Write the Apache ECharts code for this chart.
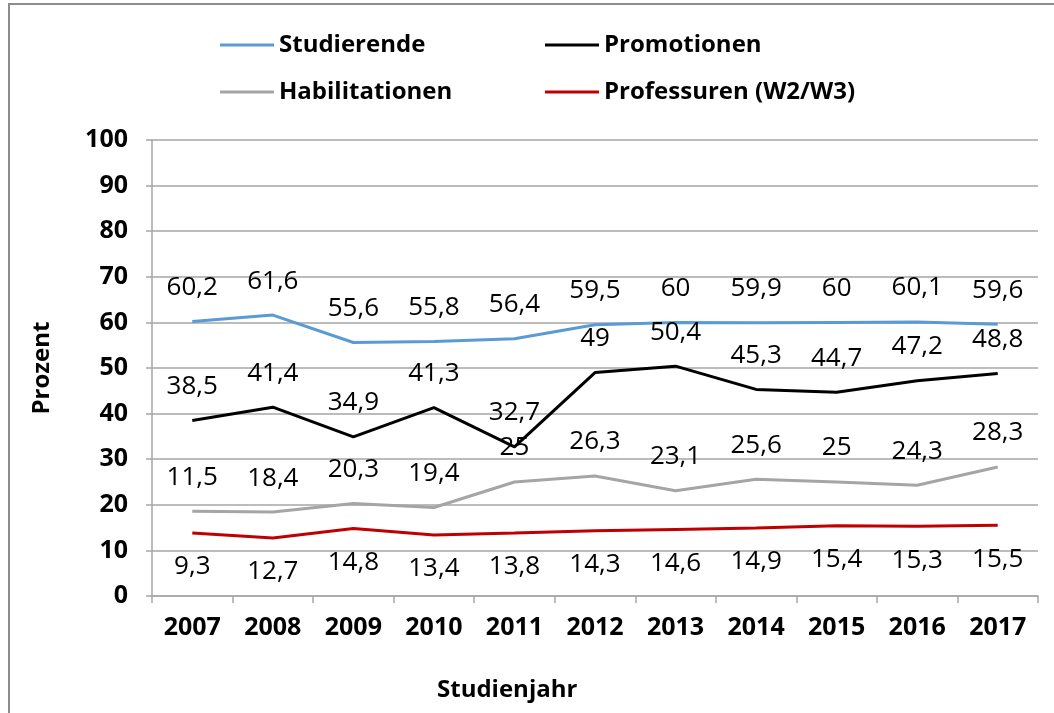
<!DOCTYPE html>
<html>
<head>
<meta charset="utf-8">
<script src="https://cdn.jsdelivr.net/npm/echarts@6/dist/echarts.min.js"></script>
<style>
    html, body { margin: 0; padding: 0; overflow: hidden; background: #fff; }
    #chart { width: 1054px; height: 713px; }
    .rahmen {
        position: absolute; left: 8px; top: 3px;
        width: 2000px; height: 2000px;
        border: 2px solid #8c8c8c;
        pointer-events: none;
    }
</style>
</head>
<body>
<div id="chart"></div>
<div class="rahmen"></div>
<script>
// Jahre
var jahre = ['2007', '2008', '2009', '2010', '2011', '2012', '2013', '2014', '2015', '2016', '2017'];
var yTicks = [0, 10, 20, 30, 40, 50, 60, 70, 80, 90, 100];

// Werte (Prozent)
var studierende = [60.2, 61.6, 55.6, 55.8, 56.4, 59.5, 60, 59.9, 60, 60.1, 59.6];
var promotionen = [38.5, 41.4, 34.9, 41.3, 32.7, 49, 50.4, 45.3, 44.7, 47.2, 48.8];
var habilitationen = [18.6, 18.4, 20.3, 19.4, 25, 26.3, 23.1, 25.6, 25, 24.3, 28.3];
var professuren = [13.8, 12.7, 14.8, 13.4, 13.8, 14.3, 14.6, 14.9, 15.4, 15.3, 15.5];

// Beschriftungen wie im Original (2007 weicht von der Linie ab)
var habilLabels = ['11,5', '18,4', '20,3', '19,4', '25', '26,3', '23,1', '25,6', '25', '24,3', '28,3'];
var profLabels = ['9,3', '12,7', '14,8', '13,4', '13,8', '14,3', '14,6', '14,9', '15,4', '15,3', '15,5'];

var FONT = '"Open Sans", "DejaVu Sans", sans-serif';
var GRAU = '#a6a6a6';

function komma(v) {
    return String(v).replace('.', ',');
}

function serie(name, data, farbe, labels, unten) {
    return {
        name: name,
        type: 'line',
        data: data,
        symbol: 'circle',
        symbolSize: 0,
        showSymbol: true,
        lineStyle: { color: farbe, width: 3 },
        itemStyle: { color: farbe },
        label: {
            show: true,
            position: unten ? 'bottom' : 'top',
            distance: 21,
            color: '#000',
            fontFamily: FONT,
            fontSize: 26,
            lineHeight: 26,
            formatter: function (p) {
                return labels ? labels[p.dataIndex] : komma(p.value);
            }
        },
        emphasis: { disabled: true }
    };
}

var legendText = { color: '#000', fontFamily: FONT, fontSize: 24, fontWeight: 'bold', lineHeight: 24 };

var chart = echarts.init(document.getElementById('chart'));
var option = {
    animation: false,
    backgroundColor: 'transparent',
    legend: [{
        orient: 'vertical',
        left: 215,
        top: 28,
        icon: 'rect',
        itemWidth: 54,
        itemHeight: 3,
        itemGap: 23,
        textStyle: legendText,
        data: ['Studierende', 'Habilitationen']
    }, {
        orient: 'vertical',
        left: 540,
        top: 28,
        icon: 'rect',
        itemWidth: 54,
        itemHeight: 3,
        itemGap: 23,
        textStyle: legendText,
        data: ['Promotionen', 'Professuren (W2/W3)']
    }],
    grid: {
        left: 152,
        right: 16,
        top: 140,
        bottom: 117
    },
    xAxis: {
        type: 'category',
        data: jahre,
        boundaryGap: true,
        axisLine: { lineStyle: { color: GRAU, width: 1.5 } },
        axisTick: { show: true, length: 7, lineStyle: { color: GRAU, width: 1.5 } },
        axisLabel: {
            color: '#000',
            fontFamily: FONT,
            fontSize: 25,
            fontWeight: 'bold',
            margin: 19
        }
    },
    yAxis: {
        type: 'value',
        min: yTicks[0],
        max: yTicks[yTicks.length - 1],
        interval: 10,
        name: 'Prozent',
        nameLocation: 'middle',
        nameGap: 98,
        nameTextStyle: {
            color: '#000',
            fontFamily: FONT,
            fontSize: 24,
            fontWeight: 'bold'
        },
        axisLine: { show: true, lineStyle: { color: GRAU, width: 1.5 } },
        axisTick: { show: true, length: 6, lineStyle: { color: GRAU, width: 1.5 } },
        axisLabel: {
            color: '#000',
            fontFamily: FONT,
            fontSize: 25,
            fontWeight: 'bold',
            margin: 24
        },
        splitLine: { lineStyle: { color: GRAU, width: 1.5 } }
    },
    graphic: [{
        type: 'text',
        left: 437,
        top: 678,
        style: {
            text: 'Studienjahr',
            fill: '#000',
            font: 'bold 24px ' + FONT
        }
    }],
    series: [
        serie('Studierende', studierende, '#5b9bd5', null, false),
        serie('Promotionen', promotionen, '#000000', null, false),
        serie('Habilitationen', habilitationen, '#a5a5a5', habilLabels, false),
        serie('Professuren (W2/W3)', professuren, '#c00000', profLabels, true)
    ]
};
chart.setOption(option, true);
</script>
</body>
</html>
